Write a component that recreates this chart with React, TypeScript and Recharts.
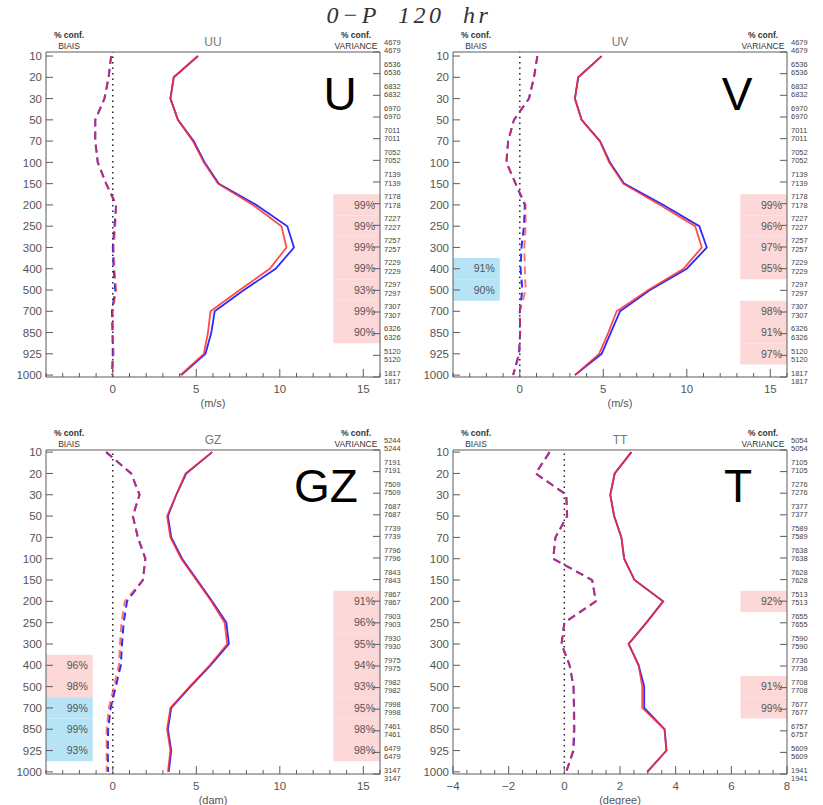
import { LineChart, Line, XAxis, YAxis, ReferenceArea, ReferenceLine } from 'recharts'

// pressure levels (hPa), drawn top to bottom at equal spacing
const levels = ['10', '20', '30', '50', '70', '100', '150', '200', '250', '300', '400', '500', '700', '850', '925', '1000']

// UU
const uuStdRed = [5.1, 3.65, 3.45, 3.9, 4.8, 5.45, 6.3, 8.4, 10.1, 10.4, 9.4, 7.6, 5.85, 5.7, 5.45, 4.05]
const uuStdBlue = [5.1, 3.65, 3.45, 3.9, 4.85, 5.5, 6.35, 8.6, 10.45, 10.85, 9.75, 7.85, 6.1, 5.9, 5.55, 4.1]
const uuBiasRed = [-0.1, -0.25, -0.5, -1.05, -1.05, -0.9, -0.4, 0.2, 0.15, 0.05, 0.1, 0.2, 0.0, 0.0, 0.05, -0.05]
const uuBiasBlue = [-0.1, -0.25, -0.5, -1.05, -1.05, -0.9, -0.4, 0.2, 0.1, 0.0, 0.05, 0.15, -0.05, -0.02, 0.0, -0.05]
const uuCounts = [4679, 6536, 6832, 6970, 7011, 7052, 7139, 7178, 7227, 7257, 7229, 7297, 7307, 6326, 5120, 1817]
const uuVarConf = [null, null, null, null, null, null, null, 99, 99, 99, 99, 93, 99, 90, null, null]
const uuBiasPink = [null, null, null, null, null, null, null, null, null, null, null, null, null, null, null, null]
const uuBiasCyan = [null, null, null, null, null, null, null, null, null, null, null, null, null, null, null, null]

// UV
const uvStdRed = [4.9, 3.5, 3.3, 3.7, 4.8, 5.35, 6.2, 8.4, 10.5, 10.9, 9.8, 7.7, 5.8, 5.3, 4.75, 3.3]
const uvStdBlue = [4.9, 3.5, 3.3, 3.7, 4.8, 5.4, 6.25, 8.6, 10.75, 11.2, 10.0, 7.8, 6.0, 5.45, 4.9, 3.3]
const uvBiasRed = [1.05, 0.85, 0.55, -0.35, -0.7, -0.8, -0.25, 0.35, 0.35, 0.27, 0.3, 0.35, 0.0, 0.02, -0.02, -0.4]
const uvBiasBlue = [1.05, 0.85, 0.55, -0.35, -0.7, -0.8, -0.25, 0.3, 0.25, 0.1, 0.05, 0.15, 0.0, 0.02, -0.05, -0.4]
const uvCounts = [4679, 6536, 6832, 6970, 7011, 7052, 7139, 7178, 7227, 7257, 7229, 7297, 7307, 6326, 5120, 1817]
const uvVarConf = [null, null, null, null, null, null, null, 99, 96, 97, 95, null, 98, 91, 97, null]
const uvBiasPink = [null, null, null, null, null, null, null, null, null, null, null, null, null, null, null, null]
const uvBiasCyan = [null, null, null, null, null, null, null, null, null, null, 91, 90, null, null, null, null]

// GZ
const gzStdRed = [5.95, 4.35, 3.8, 3.25, 3.45, 4.1, 5.0, 5.9, 6.7, 6.85, 5.8, 4.6, 3.45, 3.25, 3.45, 3.3]
const gzStdBlue = [5.95, 4.4, 3.8, 3.3, 3.5, 4.15, 5.05, 5.95, 6.8, 6.95, 5.85, 4.65, 3.5, 3.3, 3.5, 3.35]
const gzBiasRed = [-0.4, 1.1, 1.6, 1.2, 1.5, 1.95, 1.8, 0.72, 0.52, 0.43, 0.37, 0.07, -0.23, -0.37, -0.37, -0.37]
const gzBiasBlue = [-0.4, 1.1, 1.6, 1.2, 1.5, 1.95, 1.8, 0.85, 0.65, 0.55, 0.48, 0.18, -0.13, -0.28, -0.3, -0.28]
const gzCounts = [5244, 7191, 7509, 7687, 7739, 7796, 7843, 7867, 7903, 7930, 7975, 7982, 7998, 7461, 6479, 3147]
const gzVarConf = [null, null, null, null, null, null, null, 91, 96, 95, 94, 93, 95, 98, 98, null]
const gzBiasPink = [null, null, null, null, null, null, null, null, null, null, 96, 98, null, null, null, null]
const gzBiasCyan = [null, null, null, null, null, null, null, null, null, null, null, null, 99, 99, 93, null]

// TT
const ttStdRed = [2.41, 1.81, 1.65, 1.79, 2.05, 2.15, 2.52, 3.55, 2.95, 2.31, 2.67, 2.8, 2.8, 3.6, 3.67, 2.98]
const ttStdBlue = [2.41, 1.81, 1.65, 1.79, 2.05, 2.15, 2.52, 3.55, 2.95, 2.31, 2.67, 2.87, 2.87, 3.6, 3.67, 2.98]
const ttBiasRed = [-0.53, -1.03, 0.07, 0.1, -0.32, -0.4, 1.0, 1.13, 0.0, -0.1, 0.19, 0.33, 0.34, 0.34, 0.31, 0.07]
const ttBiasBlue = [-0.53, -1.03, 0.07, 0.1, -0.32, -0.4, 1.0, 1.13, 0.0, -0.1, 0.19, 0.33, 0.35, 0.36, 0.33, 0.07]
const ttCounts = [5054, 7105, 7276, 7377, 7589, 7638, 7628, 7513, 7655, 7590, 7736, 7708, 7677, 6757, 5609, 1941]
const ttVarConf = [null, null, null, null, null, null, null, 92, null, null, null, 91, 99, null, null, null]
const ttBiasPink = [null, null, null, null, null, null, null, null, null, null, null, null, null, null, null, null]
const ttBiasCyan = [null, null, null, null, null, null, null, null, null, null, null, null, null, null, null, null]

const windTickLabels = [0, 5, 10, 15]
const tempTickLabels = [-4, -2, 0, 2, 4, 6, 8]

const AXIS = '#5c5c5c'
const RED = '#ff2b2b'
const BLUE = '#2b2bff'
const PINK = '#fdd8d8'
const CYAN = '#b6e4f6'
const FONT = '"Liberation Sans", Arial, sans-serif'

const panels = [
  {
    name: 'UU', letter: 'U', unit: '(m/s)', left: 46, top: 52, w: 334, h: 325, yDomain: [-0.19, 15.09],
    xMin: -4, xMax: 16, step: 1, labels: windTickLabels, varX1: 13.2, biasX2: -1.2, letterX: 340, letterY: 94,
    stdRed: uuStdRed, stdBlue: uuStdBlue, biasRed: uuBiasRed, biasBlue: uuBiasBlue,
    counts: uuCounts, varConf: uuVarConf, biasPink: uuBiasPink, biasCyan: uuBiasCyan,
  },
  {
    name: 'UV', letter: 'V', unit: '(m/s)', left: 453, top: 52, w: 334, h: 325, yDomain: [-0.19, 15.09],
    xMin: -4, xMax: 16, step: 1, labels: windTickLabels, varX1: 13.2, biasX2: -1.2, letterX: 737, letterY: 94,
    stdRed: uvStdRed, stdBlue: uvStdBlue, biasRed: uvBiasRed, biasBlue: uvBiasBlue,
    counts: uvCounts, varConf: uvVarConf, biasPink: uvBiasPink, biasCyan: uvBiasCyan,
  },
  {
    name: 'GZ', letter: 'GZ', unit: '(dam)', left: 46, top: 450, w: 334, h: 324, yDomain: [-0.1, 15.1],
    xMin: -4, xMax: 16, step: 1, labels: windTickLabels, varX1: 13.2, biasX2: -1.2, letterX: 326, letterY: 486,
    stdRed: gzStdRed, stdBlue: gzStdBlue, biasRed: gzBiasRed, biasBlue: gzBiasBlue,
    counts: gzCounts, varConf: gzVarConf, biasPink: gzBiasPink, biasCyan: gzBiasCyan,
  },
  {
    name: 'TT', letter: 'T', unit: '(degree)', left: 453, top: 450, w: 334, h: 324, yDomain: [-0.1, 15.1],
    xMin: -4, xMax: 8, step: 0.5, labels: tempTickLabels, varX1: 6.33, biasX2: -2.31, letterX: 738, letterY: 486,
    stdRed: ttStdRed, stdBlue: ttStdBlue, biasRed: ttBiasRed, biasBlue: ttBiasBlue,
    counts: ttCounts, varConf: ttVarConf, biasPink: ttBiasPink, biasCyan: ttBiasCyan,
  },
]

const idxTicks = levels.map((_, i) => i)

function fmt(v: number) {
  return v < 0 ? '\u2212' + Math.abs(v) : String(v)
}

function Txt({ x, y, size, children, style }: any) {
  return (
    <div
      style={{
        position: 'absolute', left: x, top: y, transform: 'translate(-50%, -50%)',
        fontSize: size, fontFamily: FONT, lineHeight: 1, whiteSpace: 'nowrap', color: '#444', ...style,
      }}
    >
      {children}
    </div>
  )
}

function Panel({ p }: any) {
  const rows = levels.map((level, i) => ({
    idx: i,
    level,
    stdRed: p.stdRed[i],
    stdBlue: p.stdBlue[i],
    biasRed: p.biasRed[i],
    biasBlue: p.biasBlue[i],
  }))
  const xTicks: number[] = []
  for (let v = p.xMin; v <= p.xMax + 1e-9; v += p.step) xTicks.push(v)
  const isMajor = (v: number) => p.labels.includes(v)

  const bottomTick = (t: any) => {
    const v = t.payload.value
    const len = isMajor(v) ? 8 : 4
    return (
      <g>
        <line x1={t.x} y1={t.y} x2={t.x} y2={t.y - len} stroke={AXIS} />
        {isMajor(v) && (
          <text x={t.x} y={t.y + 12} dy="0.35em" textAnchor="middle" fontSize={11.5} fill="#555" fontFamily={FONT}>
            {fmt(v)}
          </text>
        )}
      </g>
    )
  }
  const topTick = (t: any) => {
    const v = t.payload.value
    const len = isMajor(v) ? 8 : 4
    return <line x1={t.x} y1={t.y} x2={t.x} y2={t.y + len} stroke={AXIS} />
  }
  const leftTick = (t: any) => (
    <g>
      <line x1={t.x} y1={t.y} x2={t.x + 7} y2={t.y} stroke={AXIS} />
      <text x={t.x - 4} y={t.y} dy="0.36em" textAnchor="end" fontSize={11.5} fill="#555" fontFamily={FONT}>
        {levels[t.payload.value]}
      </text>
    </g>
  )
  const rightTick = (t: any) => {
    const i = t.payload.value
    const dy = -10 + 0.4 * i
    return (
      <g>
        <line x1={t.x} y1={t.y} x2={t.x - 7} y2={t.y} stroke={AXIS} />
        <text x={t.x + 4} y={t.y + dy} dy="0.35em" fontSize={7.5} fill="#444" fontFamily={FONT}>{p.counts[i]}</text>
        <text x={t.x + 4} y={t.y + dy + 8.5} dy="0.35em" fontSize={7.5} fill="#444" fontFamily={FONT}>{p.counts[i]}</text>
      </g>
    )
  }

  const confLabel = (v: number) => ({ value: v + '%', position: 'insideRight' as const, offset: 5, fontSize: 10.5, fill: '#555', fontFamily: FONT })

  const areas: any[] = []
  levels.forEach((_, i) => {
    if (p.varConf[i] != null)
      areas.push(<ReferenceArea key={'v' + i} x1={p.varX1} x2={p.xMax} y1={i - 0.5} y2={i + 0.5} fill={PINK} fillOpacity={1} stroke="none" label={confLabel(p.varConf[i])} />)
    if (p.biasPink[i] != null)
      areas.push(<ReferenceArea key={'bp' + i} x1={p.xMin} x2={p.biasX2} y1={i - 0.5} y2={i + 0.5} fill={PINK} fillOpacity={1} stroke="none" label={confLabel(p.biasPink[i])} />)
    if (p.biasCyan[i] != null)
      areas.push(<ReferenceArea key={'bc' + i} x1={p.xMin} x2={p.biasX2} y1={i - 0.5} y2={i + 0.5} fill={CYAN} fillOpacity={1} stroke="none" label={confLabel(p.biasCyan[i])} />)
  })

  return (
    <>
      <div style={{ position: 'absolute', left: p.left - 50, top: p.top - 50 }}>
        <LineChart
          width={p.w + 100}
          height={p.h + 90}
          data={rows}
          layout="vertical"
          margin={{ top: 40, right: 10, bottom: 10, left: 10 }}
        >
          <XAxis
            xAxisId={0} type="number" orientation="bottom" domain={[p.xMin, p.xMax]} ticks={xTicks} interval={0}
            height={30} tickSize={0} tickMargin={0} tickLine={false} axisLine={{ stroke: AXIS }} tick={bottomTick}
          />
          <XAxis
            xAxisId="top" type="number" orientation="top" domain={[p.xMin, p.xMax]} ticks={xTicks} interval={0}
            height={10} tickSize={0} tickMargin={0} tickLine={false} axisLine={{ stroke: AXIS }} tick={topTick}
          />
          <YAxis
            yAxisId={0} type="number" dataKey="idx" domain={p.yDomain} ticks={idxTicks} interval={0}
            width={40} tickSize={0} tickMargin={0} tickLine={false} axisLine={{ stroke: AXIS }} tick={leftTick}
            allowDataOverflow
          />
          <YAxis
            yAxisId="r" type="number" orientation="right" domain={p.yDomain} ticks={idxTicks} interval={0}
            width={40} tickSize={0} tickMargin={0} tickLine={false} axisLine={{ stroke: AXIS }} tick={rightTick}
            allowDataOverflow
          />
          {areas}
          <ReferenceLine x={0} stroke="#222" strokeWidth={1.5} strokeDasharray="1.5 4" />
          <Line dataKey="stdBlue" stroke={BLUE} strokeWidth={1.8} dot={false} isAnimationActive={false} />
          <Line dataKey="stdRed" stroke={RED} strokeWidth={1.8} strokeOpacity={0.85} dot={false} isAnimationActive={false} />
          <Line dataKey="biasBlue" stroke={BLUE} strokeWidth={2} strokeDasharray="8 5" dot={false} isAnimationActive={false} />
          <Line dataKey="biasRed" stroke={RED} strokeWidth={2} strokeOpacity={0.65} strokeDasharray="8 5" dot={false} isAnimationActive={false} />
        </LineChart>
      </div>
      <Txt x={p.left + 23} y={p.top - 17.5} size={8.5} style={{ fontWeight: 'bold', color: '#333' }}>% conf.</Txt>
      <Txt x={p.left + 23} y={p.top - 6.5} size={8.5} style={{ color: '#333' }}>BIAIS</Txt>
      <Txt x={p.left + p.w / 2} y={p.top - 10} size={12} style={{ color: '#777' }}>{p.name}</Txt>
      <Txt x={p.left + p.w - 24} y={p.top - 17.5} size={8.5} style={{ fontWeight: 'bold', color: '#333' }}>% conf.</Txt>
      <Txt x={p.left + p.w - 24} y={p.top - 6.5} size={8.5} style={{ color: '#333' }}>VARIANCE</Txt>
      <Txt x={p.left + p.w / 2} y={p.top + p.h + 26} size={11} style={{ color: '#555' }}>{p.unit}</Txt>
      <Txt x={p.letterX} y={p.letterY} size={46} style={{ color: '#000' }}>{p.letter}</Txt>
    </>
  )
}

export default function App() {
  return (
    <div style={{ position: 'absolute', left: 0, top: 0, width: 823, height: 805, background: '#fff', overflow: 'hidden' }}>
      <Txt x={409} y={15.5} size={24} style={{ fontFamily: '"Liberation Serif", "DejaVu Serif", serif', fontStyle: 'italic', color: '#333', letterSpacing: 3.5, wordSpacing: 9, lineHeight: 0.8 }}>
        0{'\u2212'}P 120 hr
      </Txt>
      {panels.map((p) => (
        <Panel key={p.name} p={p} />
      ))}
    </div>
  )
}
